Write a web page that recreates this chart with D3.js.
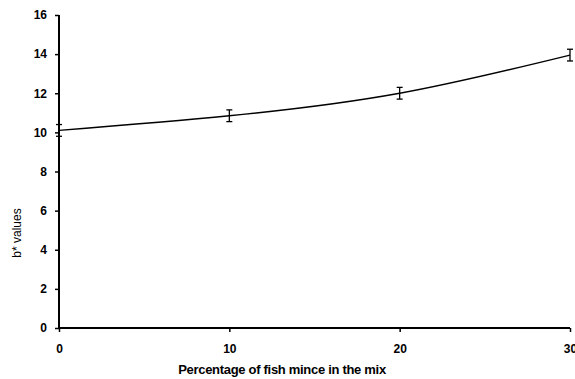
<!DOCTYPE html>
<html>
<head>
<meta charset="utf-8">
<script src="https://cdn.jsdelivr.net/npm/d3@7"></script>
<style>
  body { margin: 0; background: #fff; }
  svg { display: block; }
  text { font-family: "Liberation Sans", Arial, sans-serif; fill: #000; }
</style>
</head>
<body>
<svg id="chart" width="575" height="379"></svg>
<script>
const percentages = [0, 10, 20, 30];
const bValues = [10.1, 10.85, 12.0, 13.95];
const errors = [0.3, 0.3, 0.3, 0.3];
const xTicks = [0, 10, 20, 30];
const yTicks = [0, 2, 4, 6, 8, 10, 12, 14, 16];
const xTitle = "Percentage of fish mince in the mix";
const yTitle = "b* values";

const svg = d3.select("#chart");
const x = d3.scaleLinear().domain([0, 30]).range([59, 570]);
const y = d3.scaleLinear().domain([0, 16]).range([328, 15]);

// axes
const yAxis = svg.append("g").attr("transform", "translate(59,0)")
  .call(d3.axisLeft(y).tickValues(yTicks).tickSize(4).tickPadding(8).tickFormat(d3.format("d")));
yAxis.select(".domain").attr("stroke-width", 2).attr("d", "M0," + y(16) + "V" + y(0));
yAxis.selectAll(".tick line").attr("stroke-width", 1.5);
yAxis.selectAll("text").style("font-size", "12px").style("font-weight", "bold").attr("font-family", "Liberation Sans, Arial, sans-serif");

const xAxis = svg.append("g").attr("transform", "translate(0,328)")
  .call(d3.axisBottom(x).tickValues(xTicks).tickSize(4).tickPadding(12).tickFormat(d3.format("d")));
xAxis.select(".domain").attr("stroke-width", 2).attr("d", "M" + x(0) + ",0H" + x(30));
xAxis.selectAll(".tick line").attr("stroke-width", 1.5);
xAxis.selectAll("text").style("font-size", "12px").style("font-weight", "bold").attr("font-family", "Liberation Sans, Arial, sans-serif");

// titles
svg.append("text").attr("x", 282).attr("y", 374).attr("text-anchor", "middle")
  .style("font-size", "13px").style("font-weight", "bold").style("letter-spacing", "-0.3px").text(xTitle);
svg.append("text").attr("transform", "translate(21,233) rotate(-90)").attr("text-anchor", "middle")
  .style("font-size", "12px").text(yTitle);

// trend line
const pts = percentages.map((p, i) => [p, bValues[i]]);
svg.append("path").datum(pts)
  .attr("fill", "none").attr("stroke", "#000").attr("stroke-width", 1.3)
  .attr("d", d3.line().x(d => x(d[0])).y(d => y(d[1])).curve(d3.curveNatural));

// error bars
const eb = svg.append("g").attr("stroke", "#000").attr("stroke-width", 1.3);
percentages.forEach((p, i) => {
  const cx = x(p), y1 = y(bValues[i] + errors[i]), y2 = y(bValues[i] - errors[i]);
  eb.append("line").attr("x1", cx).attr("x2", cx).attr("y1", y1).attr("y2", y2);
  eb.append("line").attr("x1", cx - 3).attr("x2", cx + 3).attr("y1", y1).attr("y2", y1);
  eb.append("line").attr("x1", cx - 3).attr("x2", cx + 3).attr("y1", y2).attr("y2", y2);
});
</script>
</body>
</html>
